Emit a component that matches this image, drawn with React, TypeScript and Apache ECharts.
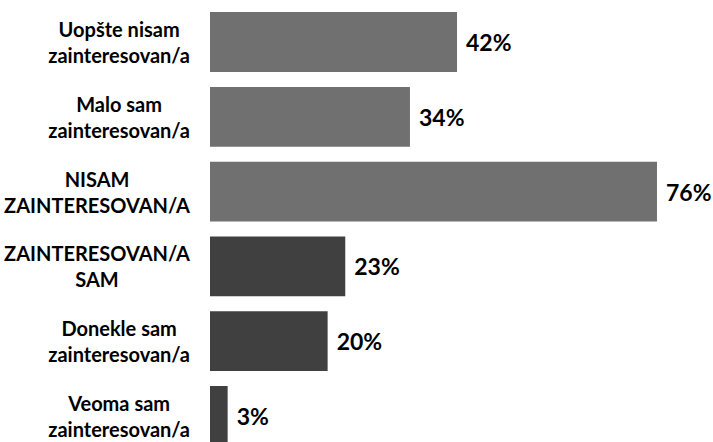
import React, { useEffect, useRef } from "react";
import * as echarts from "echarts";

const categories: string[] = [
  "Uopšte nisam\nzainteresovan/a",
  "Malo sam\nzainteresovan/a",
  "NISAM\nZAINTERESOVAN/A",
  "ZAINTERESOVAN/A\nSAM",
  "Donekle sam\nzainteresovan/a",
  "Veoma sam\nzainteresovan/a",
];
const values: number[] = [42, 34, 76, 23, 20, 3];
const barColors: string[] = ["#707070", "#707070", "#707070", "#404040", "#404040", "#404040"];

const FONT = "Lato, 'Open Sans', sans-serif";
const LABEL_SIZE = 20;
const VALUE_SIZE = 23;
const LABEL_GAP = 20;
const LINE_H = 26;

export default function App() {
  const ref = useRef<HTMLDivElement>(null);
  useEffect(() => {
    if (!ref.current) return;
    const chart = echarts.init(ref.current, undefined, { renderer: "svg" });
    const canvas = document.createElement("canvas");
    const ctx = canvas.getContext("2d");
    if (ctx) ctx.font = `bold ${LABEL_SIZE}px ${FONT}`;
    const measure = (s: string) => (ctx ? ctx.measureText(s).width : s.length * 10);

    // one label-only category axis per category line: each line is centred on
    // its block, and the block is right-aligned next to the bars
    const yAxes: any[] = [];
    categories.forEach((c, i) => {
      const lines = c.split("\n");
      const widths = lines.map(measure);
      const blockW = Math.max(...widths);
      lines.forEach((_, j) => {
        yAxes.push({
          type: "category",
          inverse: true,
          position: "left",
          offset: 0,
          data: categories,
          axisLine: { show: false },
          axisTick: { show: false },
          splitLine: { show: false },
          axisLabel: {
            margin: LABEL_GAP + (blockW - widths[j]) / 2,
            align: "right",
            verticalAlign: lines.length === 1 ? "middle" : j === 0 ? "bottom" : "top",
            fontFamily: FONT,
            fontWeight: "bold",
            fontSize: LABEL_SIZE,
            color: "#000000",
            lineHeight: LINE_H,
            interval: 0,
            formatter: (v: string, idx: number) => (idx === i ? v.split("\n")[j] : ""),
          },
        });
      });
    });

    chart.setOption({
      animation: false,
      backgroundColor: "#ffffff",
      grid: {
        left: 210,
        top: 4.6,
        width: 470.5,
        height: 448.8,
        containLabel: false,
        outerBoundsMode: "none",
      },
      xAxis: {
        type: "value",
        min: 0,
        max: 80,
        show: false,
      },
      yAxis: yAxes,
      series: [
        {
          type: "bar",
          yAxisIndex: 0,
          barCategoryGap: "20%",
          data: values.map((v, i) => ({ value: v, itemStyle: { color: barColors[i] } })),
          label: {
            show: true,
            position: "right",
            distance: 9,
            formatter: "{c}%",
            fontFamily: FONT,
            fontWeight: "bold",
            fontSize: VALUE_SIZE,
            color: "#000000",
          },
        },
      ],
    });
    return () => chart.dispose();
  }, []);
  return (
    <div
      ref={ref}
      style={{ position: "fixed", left: 0, top: 0, width: 713, height: 442, background: "#fff" }}
    />
  );
}
